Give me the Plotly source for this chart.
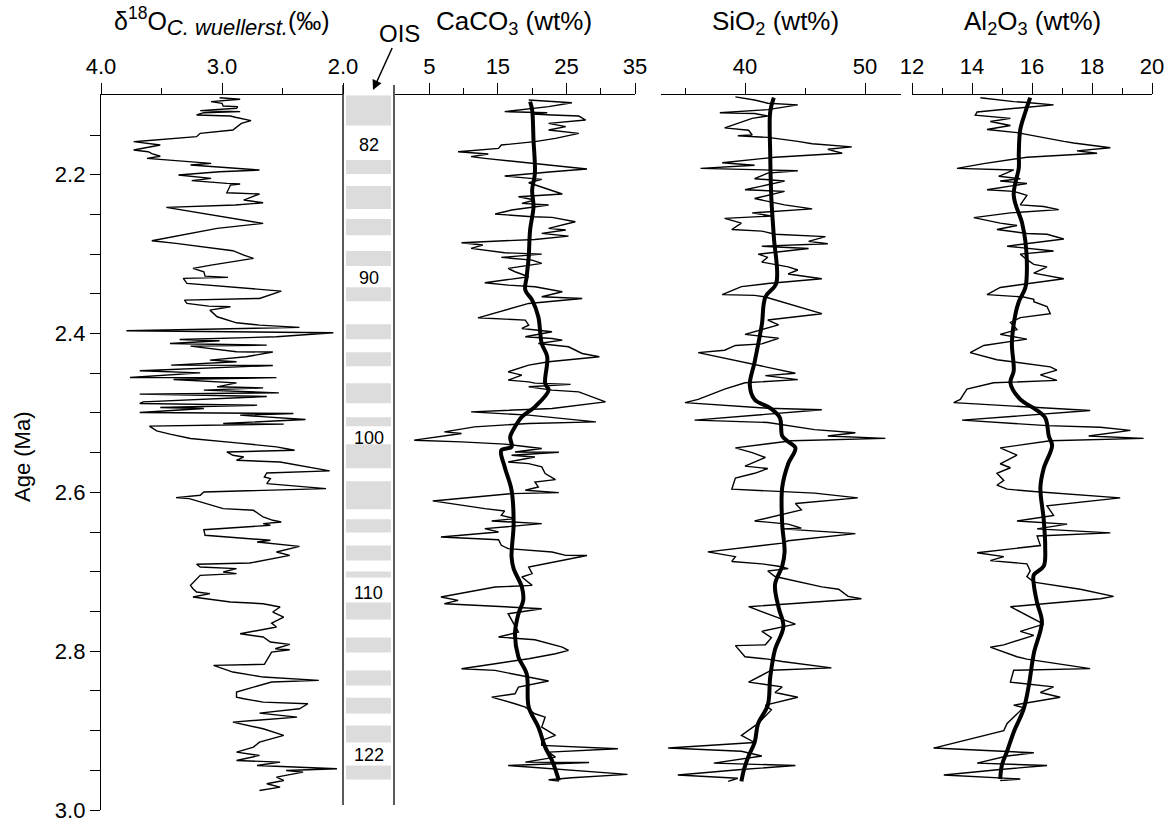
import plotly.graph_objects as go

# ---------------- data ----------------
# benthic oxygen isotopes (C. wuellerstorfi), permil vs age (Ma)
d18o_age = [2.1030, 2.1050, 2.1080, 2.1101, 2.1135, 2.1143, 2.1164, 2.1193, 2.1206, 2.1219, 2.1248, 2.1261,
            2.1277, 2.1319, 2.1353, 2.1416, 2.1437, 2.1479, 2.1521, 2.1584, 2.1626, 2.1689, 2.1710, 2.1735,
            2.1767, 2.1794, 2.1857, 2.1878, 2.1941, 2.1962, 2.2004, 2.2046, 2.2075, 2.2109, 2.2117, 2.2130,
            2.2227, 2.2243, 2.2319, 2.2353, 2.2382, 2.2411, 2.2495, 2.2521, 2.2613, 2.2676, 2.2831, 2.2865,
            2.2941, 2.2957, 2.3012, 2.3054, 2.3138, 2.3180, 2.3222, 2.3277, 2.3293, 2.3306, 2.3369, 2.3445,
            2.3466, 2.3558, 2.3579, 2.3621, 2.3655, 2.3663, 2.3705, 2.3789, 2.3865, 2.3894, 2.3923, 2.3965,
            2.3991, 2.4041, 2.4075, 2.4091, 2.4125, 2.4146, 2.4159, 2.4230, 2.4233, 2.4293, 2.4335, 2.4356,
            2.4398, 2.4402, 2.4469, 2.4495, 2.4553, 2.4555, 2.4579, 2.4621, 2.4671, 2.4684, 2.4713, 2.4747,
            2.4763, 2.4793, 2.4860, 2.4881, 2.4902, 2.4931, 2.4944, 2.4994, 2.5007, 2.5028, 2.5082, 2.5133,
            2.5141, 2.5166, 2.5225, 2.5267, 2.5322, 2.5377, 2.5427, 2.5469, 2.5491, 2.5533, 2.5554, 2.5596,
            2.5617, 2.5730, 2.5756, 2.5806, 2.5827, 2.5890, 2.5953, 2.5995, 2.6037, 2.6066, 2.6079, 2.6205,
            2.6226, 2.6310, 2.6352, 2.6373, 2.6394, 2.6415, 2.6470, 2.6541, 2.6583, 2.6604, 2.6625, 2.6680,
            2.6751, 2.6793, 2.6890, 2.6906, 2.6940, 2.6961, 2.7003, 2.7024, 2.7045, 2.7171, 2.7213, 2.7255,
            2.7276, 2.7318, 2.7381, 2.7402, 2.7444, 2.7507, 2.7570, 2.7646, 2.7696, 2.7780, 2.7822, 2.7885,
            2.7914, 2.7969, 2.7982, 2.8011, 2.8166, 2.8179, 2.8263, 2.8326, 2.8368, 2.8389, 2.8452, 2.8515,
            2.8578, 2.8599, 2.8641, 2.8662, 2.8725, 2.8780, 2.8830, 2.8893, 2.8977, 2.9061, 2.9145, 2.9208,
            2.9271, 2.9313, 2.9376, 2.9397, 2.9439, 2.9481, 2.9502, 2.9523, 2.9586, 2.9628, 2.9670, 2.9712,
            2.9754]
d18o = [3.02, 2.85, 3.09, 3.00, 2.99, 2.87, 2.88, 3.18, 2.85, 3.15, 3.21, 2.93,
        2.89, 2.76, 2.84, 2.89, 2.91, 3.18, 3.21, 3.73, 3.51, 3.73, 3.61, 3.58,
        3.51, 3.62, 3.09, 3.26, 2.69, 3.02, 3.36, 3.09, 3.25, 2.96, 2.85, 2.93,
        2.96, 2.69, 2.82, 2.66, 2.89, 3.46, 3.13, 3.03, 2.66, 3.04, 3.58, 3.38,
        2.96, 2.91, 2.82, 2.74, 3.09, 3.24, 3.15, 3.14, 2.95, 3.32, 3.29, 2.66,
        2.51, 2.69, 3.31, 3.29, 3.11, 2.93, 3.10, 3.04, 2.88, 2.69, 2.36, 3.79,
        2.08, 2.55, 3.35, 3.02, 3.43, 2.63, 3.26, 2.88, 2.58, 2.80, 3.10, 2.88,
        3.42, 2.58, 3.68, 3.18, 3.76, 2.55, 3.40, 2.88, 3.04, 2.66, 3.15, 2.53,
        3.68, 2.63, 3.65, 3.68, 2.71, 3.51, 3.15, 3.68, 2.41, 2.85, 2.31, 2.99,
        2.49, 3.60, 3.54, 3.43, 3.26, 2.88, 2.55, 2.40, 2.96, 2.91, 2.82, 2.88,
        2.52, 2.11, 2.63, 2.65, 2.60, 2.63, 2.14, 3.15, 3.18, 3.38, 3.27, 2.99,
        2.74, 2.66, 2.58, 2.51, 2.66, 2.60, 3.15, 3.14, 2.74, 2.60, 2.71, 2.36,
        2.55, 2.44, 2.77, 3.21, 3.18, 2.88, 2.99, 2.88, 3.18, 3.26, 3.24, 3.21,
        3.10, 3.24, 2.93, 2.66, 2.52, 2.58, 2.49, 2.59, 2.55, 2.85, 2.66, 2.60,
        2.44, 2.56, 2.44, 2.59, 2.65, 3.07, 2.91, 2.66, 2.20, 2.59, 2.74, 2.88,
        2.88, 2.82, 2.66, 2.29, 2.36, 2.69, 2.38, 2.91, 2.66, 2.49, 2.69, 2.74,
        2.88, 2.69, 2.88, 2.52, 2.71, 2.05, 2.47, 2.33, 2.55, 2.49, 2.63, 2.52,
        2.69]

# CaCO3 (wt%)
caco3_age = [2.1060, 2.1093, 2.1143, 2.1206, 2.1219, 2.1235, 2.1248, 2.1261, 2.1311, 2.1353, 2.1395, 2.1437,
             2.1479, 2.1542, 2.1584, 2.1626, 2.1668, 2.1710, 2.1739, 2.1773, 2.1794, 2.1823, 2.1849, 2.1928,
             2.1962, 2.2017, 2.2059, 2.2101, 2.2243, 2.2277, 2.2319, 2.2361, 2.2382, 2.2411, 2.2445, 2.2495,
             2.2529, 2.2537, 2.2592, 2.2676, 2.2697, 2.2739, 2.2773, 2.2815, 2.2857, 2.2886, 2.2928, 2.2983,
             2.3000, 2.3041, 2.3075, 2.3117, 2.3180, 2.3222, 2.3285, 2.3361, 2.3390, 2.3411, 2.3474, 2.3537,
             2.3558, 2.3621, 2.3802, 2.3831, 2.3894, 2.3936, 2.3978, 2.4041, 2.4062, 2.4083, 2.4125, 2.4167,
             2.4251, 2.4293, 2.4356, 2.4398, 2.4482, 2.4524, 2.4587, 2.4608, 2.4625, 2.4640, 2.4671, 2.4713,
             2.4734, 2.4860, 2.4944, 2.4986, 2.5007, 2.5028, 2.5112, 2.5133, 2.5175, 2.5238, 2.5259, 2.5301,
             2.5343, 2.5364, 2.5393, 2.5448, 2.5491, 2.5495, 2.5533, 2.5554, 2.5617, 2.5638, 2.5680, 2.5764,
             2.5840, 2.5869, 2.5932, 2.5974, 2.6003, 2.6016, 2.6108, 2.6205, 2.6234, 2.6289, 2.6331, 2.6360,
             2.6394, 2.6457, 2.6499, 2.6562, 2.6596, 2.6667, 2.6709, 2.6751, 2.6793, 2.6795, 2.6835, 2.6940,
             2.7024, 2.7066, 2.7171, 2.7192, 2.7318, 2.7360, 2.7402, 2.7444, 2.7465, 2.7528, 2.7759, 2.7822,
             2.7856, 2.7948, 2.7990, 2.8032, 2.8095, 2.8158, 2.8221, 2.8242, 2.8284, 2.8376, 2.8452, 2.8536,
             2.8578, 2.8620, 2.8662, 2.8704, 2.8788, 2.8830, 2.8956, 2.9061, 2.9124, 2.9187, 2.9229, 2.9271,
             2.9334, 2.9397, 2.9401, 2.9439, 2.9481, 2.9502, 2.9552, 2.9594, 2.9620, 2.9636]
caco3 = [19.5, 25.8, 22.4, 16.0, 22.2, 20.0, 22.9, 26.8, 27.8, 22.4, 24.9, 22.4,
         26.8, 23.4, 20.4, 15.5, 15.1, 9.2, 13.6, 11.1, 13.1, 16.5, 18.5, 28.0,
         22.9, 16.0, 21.4, 19.5, 24.4, 18.0, 20.4, 18.5, 22.4, 20.0, 17.0, 14.6,
         20.0, 22.9, 26.3, 22.4, 24.9, 21.4, 25.3, 20.4, 9.7, 12.8, 11.1, 16.0,
         21.4, 15.5, 20.0, 21.4, 16.5, 17.5, 19.5, 13.1, 16.5, 20.4, 24.4, 21.4,
         27.3, 19.5, 12.1, 19.0, 19.5, 18.5, 22.9, 19.0, 22.9, 24.4, 20.9, 25.3,
         27.3, 29.8, 22.4, 19.5, 16.5, 18.5, 16.5, 19.5, 20.4, 25.6, 19.5, 22.9,
         26.8, 30.7, 22.9, 11.1, 14.6, 19.5, 29.3, 19.5, 11.6, 7.2, 9.7, 6.2,
         2.8, 9.7, 16.0, 21.4, 17.5, 23.9, 17.0, 20.4, 16.5, 19.5, 21.4, 21.9,
         23.4, 20.4, 20.9, 19.0, 23.9, 17.0, 5.5, 13.1, 16.0, 15.5, 17.5, 14.1,
         21.4, 13.1, 15.1, 6.7, 15.1, 15.5, 16.5, 22.9, 24.9, 28.0, 25.8, 19.5,
         20.0, 18.5, 20.0, 14.6, 6.7, 9.2, 7.2, 17.0, 21.4, 16.5, 18.0, 15.1,
         20.4, 24.4, 25.3, 23.4, 19.5, 14.6, 9.7, 14.6, 17.0, 22.4, 18.0, 17.5,
         14.1, 16.0, 17.5, 19.0, 20.4, 21.9, 21.4, 23.4, 21.4, 21.4, 32.5, 22.4,
         23.4, 19.0, 28.3, 16.5, 22.9, 25.3, 33.9, 25.8, 22.4, 23.9]
caco3_smooth_age = [2.1080, 2.1185, 2.1563, 2.1983, 2.2193, 2.2403, 2.2697, 2.3033, 2.3285, 2.3453, 2.3579,
                    2.3789, 2.4125, 2.4293, 2.4629, 2.4713, 2.4923, 2.5049, 2.5175, 2.5301, 2.5427, 2.5470,
                    2.5680, 2.5974, 2.6394, 2.6814, 2.6961, 2.7192, 2.7360, 2.7528, 2.7780, 2.8074, 2.8284,
                    2.8704, 2.8956, 2.9208, 2.9376, 2.9544, 2.9628]
caco3_smooth = [19.7, 20.0, 20.2, 20.4, 20.0, 20.2, 19.7, 19.5, 19.2, 19.0, 20.0,
                20.9, 21.4, 22.2, 21.9, 22.4, 20.4, 18.5, 17.5, 16.8, 17.0, 15.5,
                16.0, 17.0, 17.3, 17.0, 17.3, 18.5, 18.7, 18.0, 17.5, 18.0, 19.2,
                19.5, 20.9, 21.9, 22.9, 23.6, 23.9]

# SiO2 (wt%)
sio2_age = [2.102, 2.106, 2.110, 2.112, 2.118, 2.122, 2.123, 2.126, 2.129, 2.141, 2.144, 2.150,
            2.151, 2.153, 2.158, 2.161, 2.165, 2.168, 2.173, 2.178, 2.185, 2.188, 2.192, 2.195,
            2.198, 2.205, 2.208, 2.219, 2.221, 2.230, 2.238, 2.240, 2.243, 2.248, 2.252, 2.255,
            2.261, 2.269, 2.271, 2.275, 2.278, 2.284, 2.287, 2.290, 2.293, 2.300, 2.304, 2.310,
            2.316, 2.320, 2.325, 2.331, 2.337, 2.341, 2.351, 2.352, 2.354, 2.375, 2.383, 2.389,
            2.401, 2.406, 2.413, 2.415, 2.421, 2.424, 2.439, 2.450, 2.453, 2.458, 2.462, 2.470,
            2.483, 2.487, 2.494, 2.496, 2.509, 2.512, 2.521, 2.525, 2.529, 2.532, 2.535, 2.544,
            2.550, 2.556, 2.567, 2.570, 2.576, 2.582, 2.596, 2.601, 2.607, 2.614, 2.622, 2.636,
            2.640, 2.645, 2.646, 2.649, 2.652, 2.661, 2.664, 2.675, 2.681, 2.687, 2.690, 2.693,
            2.696, 2.699, 2.706, 2.719, 2.722, 2.731, 2.734, 2.744, 2.766, 2.775, 2.783, 2.792,
            2.793, 2.807, 2.810, 2.813, 2.821, 2.824, 2.839, 2.845, 2.852, 2.858, 2.868, 2.874,
            2.891, 2.906, 2.915, 2.922, 2.926, 2.932, 2.941, 2.944, 2.949, 2.956, 2.960, 2.964]
sio2 = [39.2, 40.8, 41.9, 44.4, 41.9, 37.9, 40.8, 41.9, 40.6, 38.3, 40.3, 40.6,
        39.4, 41.9, 44.4, 45.6, 48.9, 46.9, 48.1, 42.5, 38.1, 40.8, 36.3, 44.4,
        41.9, 40.8, 43.3, 40.0, 43.3, 40.8, 43.3, 44.4, 45.6, 40.6, 42.2, 38.3,
        39.7, 38.9, 41.4, 42.5, 46.7, 45.3, 46.9, 41.4, 45.3, 41.1, 41.9, 41.4,
        43.6, 44.4, 43.6, 46.4, 41.9, 39.7, 38.1, 40.8, 41.7, 46.4, 41.9, 42.8,
        40.0, 42.8, 41.4, 39.2, 38.3, 36.1, 40.8, 44.2, 41.7, 44.4, 40.0, 38.3,
        36.1, 35.0, 41.9, 46.4, 35.8, 41.9, 45.8, 49.2, 46.9, 51.7, 43.9, 39.2,
        40.6, 41.7, 40.0, 41.9, 40.8, 39.2, 38.9, 45.8, 49.4, 44.2, 44.7, 40.8,
        43.6, 44.7, 43.1, 45.8, 49.2, 43.6, 43.1, 36.9, 39.2, 38.9, 41.4, 42.8,
        43.6, 41.9, 42.5, 46.4, 47.8, 48.6, 49.7, 40.3, 44.2, 41.4, 42.2, 41.7,
        39.2, 40.0, 41.9, 43.1, 47.2, 42.2, 40.3, 43.1, 42.5, 44.4, 41.7, 42.2,
        41.1, 39.7, 40.8, 33.6, 39.7, 41.4, 37.4, 44.2, 39.7, 34.4, 39.4, 38.6]
sio2_smooth_age = [2.103, 2.121, 2.173, 2.231, 2.278, 2.337, 2.354, 2.389, 2.436, 2.465, 2.483, 2.494,
                   2.506, 2.529, 2.535, 2.544, 2.564, 2.594, 2.640, 2.675, 2.693, 2.716, 2.745, 2.769,
                   2.798, 2.833, 2.868, 2.891, 2.915, 2.932, 2.950, 2.964]
sio2_smooth = [42.4, 42.1, 42.1, 42.2, 42.4, 42.6, 41.7, 41.4, 40.8, 40.4, 40.8, 42.1,
               42.9, 43.1, 43.5, 44.2, 43.6, 43.1, 43.1, 43.3, 43.1, 42.5, 42.8, 43.2,
               42.5, 42.1, 41.9, 41.1, 40.8, 40.3, 39.9, 39.7]

# Al2O3 (wt%)
al2o3_age = [2.103, 2.108, 2.109, 2.112, 2.115, 2.121, 2.125, 2.129, 2.133, 2.138, 2.143, 2.147,
             2.158, 2.160, 2.166, 2.170, 2.173, 2.178, 2.186, 2.192, 2.194, 2.202, 2.205, 2.208,
             2.211, 2.219, 2.221, 2.226, 2.238, 2.240, 2.244, 2.248, 2.254, 2.261, 2.264, 2.269,
             2.274, 2.275, 2.281, 2.290, 2.296, 2.300, 2.307, 2.313, 2.316, 2.324, 2.331, 2.337,
             2.342, 2.351, 2.354, 2.357, 2.360, 2.366, 2.375, 2.380, 2.386, 2.395, 2.401, 2.407,
             2.415, 2.424, 2.433, 2.442, 2.446, 2.452, 2.459, 2.462, 2.470, 2.483, 2.487, 2.497,
             2.509, 2.516, 2.518, 2.522, 2.529, 2.532, 2.535, 2.544, 2.553, 2.564, 2.569, 2.576,
             2.585, 2.591, 2.596, 2.599, 2.607, 2.617, 2.629, 2.636, 2.640, 2.646, 2.651, 2.655,
             2.667, 2.676, 2.681, 2.686, 2.690, 2.699, 2.706, 2.713, 2.722, 2.731, 2.734, 2.744,
             2.766, 2.775, 2.780, 2.792, 2.795, 2.807, 2.810, 2.822, 2.824, 2.839, 2.845, 2.852,
             2.858, 2.868, 2.871, 2.891, 2.900, 2.922, 2.928, 2.932, 2.941, 2.944, 2.949, 2.956,
             2.961, 2.963]
al2o3 = [14.28, 15.39, 15.83, 16.72, 15.83, 14.17, 14.11, 15.28, 14.61, 15.28, 14.50, 15.50,
         17.06, 17.39, 18.61, 17.50, 18.17, 15.83, 14.39, 13.50, 15.39, 14.89, 15.61, 14.94,
         15.83, 14.50, 15.39, 15.83, 15.61, 16.39, 16.89, 15.28, 14.06, 14.94, 15.50, 14.83,
         15.83, 16.50, 17.06, 15.17, 16.72, 15.61, 15.83, 16.06, 16.50, 16.06, 17.06, 15.83,
         14.94, 14.50, 15.72, 16.06, 16.06, 16.50, 16.61, 15.61, 15.28, 15.50, 14.94, 15.83,
         14.39, 13.94, 14.83, 16.61, 16.83, 16.28, 16.83, 14.72, 13.83, 13.61, 13.39, 17.94,
         13.67, 16.50, 18.28, 19.28, 17.89, 19.72, 16.61, 14.94, 15.50, 14.94, 15.28, 14.83,
         15.06, 14.83, 15.17, 16.06, 18.94, 16.50, 16.72, 15.50, 17.17, 16.17, 18.61, 16.17,
         16.28, 14.17, 15.06, 14.61, 15.83, 15.94, 15.83, 16.06, 17.61, 18.72, 18.28, 15.28,
         16.39, 15.61, 16.06, 15.06, 14.61, 15.50, 15.83, 17.94, 15.39, 15.28, 16.72, 16.28,
         16.94, 15.39, 15.72, 15.17, 15.06, 12.72, 16.06, 15.17, 14.17, 16.50, 14.94, 13.06,
         15.61, 14.94]
al2o3_smooth_age = [2.103, 2.121, 2.143, 2.173, 2.191, 2.226, 2.261, 2.284, 2.319, 2.342, 2.360, 2.377,
                    2.412, 2.447, 2.462, 2.483, 2.494, 2.506, 2.529, 2.541, 2.570, 2.594, 2.634, 2.669,
                    2.693, 2.704, 2.716, 2.739, 2.763, 2.803, 2.844, 2.873, 2.902, 2.926, 2.943, 2.961]
al2o3_smooth = [15.94, 15.78, 15.61, 15.56, 15.56, 15.39, 15.67, 15.78, 15.83, 15.78, 15.56, 15.44,
                15.33, 15.39, 15.28, 15.61, 16.06, 16.44, 16.56, 16.67, 16.39, 16.28, 16.39, 16.44,
                16.39, 16.06, 16.06, 16.17, 16.33, 16.06, 15.89, 15.72, 15.39, 15.17, 15.00, 14.94]

# oxygen isotope stages: glacial (shaded) intervals, Ma
ois_top = [2.100, 2.1815, 2.2143, 2.2559, 2.2962, 2.3416, 2.3882, 2.4235, 2.4626, 2.5054, 2.5394,
           2.5861, 2.6340, 2.6668, 2.6996, 2.7387, 2.7828, 2.8244, 2.8585, 2.8937, 2.9441]
ois_bottom = [2.1381, 2.1992, 2.2433, 2.2761, 2.3151, 2.3592, 2.4071, 2.4411, 2.4878, 2.5168, 2.5697,
              2.6214, 2.6504, 2.6857, 2.7072, 2.7601, 2.8017, 2.8433, 2.8786, 2.9151, 2.9617]
ois_label = ["82", "90", "100", "110", "122"]
ois_label_age = [2.163, 2.330, 2.531, 2.727, 2.931]

# ---------------- figure ----------------
W, H = 1173, 825
FONT = "Liberation Sans, Arial, Helvetica, sans-serif"


def fx(px):
    return px / W


def fy(py):
    return 1 - py / H


thin = dict(color="black", width=1.4)
thick = dict(color="black", width=4.0)

fig = go.Figure()
fig.add_trace(go.Scatter(x=d18o, y=d18o_age, xaxis="x", yaxis="y", mode="lines", line=thin))
fig.add_trace(go.Scatter(x=caco3, y=caco3_age, xaxis="x3", yaxis="y", mode="lines", line=thin))
fig.add_trace(go.Scatter(x=caco3_smooth, y=caco3_smooth_age, xaxis="x3", yaxis="y", mode="lines",
                         line=thick, line_shape="spline"))
fig.add_trace(go.Scatter(x=sio2, y=sio2_age, xaxis="x4", yaxis="y", mode="lines", line=thin))
fig.add_trace(go.Scatter(x=sio2_smooth, y=sio2_smooth_age, xaxis="x4", yaxis="y", mode="lines",
                         line=thick, line_shape="spline"))
fig.add_trace(go.Scatter(x=al2o3, y=al2o3_age, xaxis="x5", yaxis="y", mode="lines", line=thin))
fig.add_trace(go.Scatter(x=al2o3_smooth, y=al2o3_smooth_age, xaxis="x5", yaxis="y", mode="lines",
                         line=thick, line_shape="spline"))

tickfont = dict(family=FONT, size=22, color="black")


def top_axis(domain, rng, tickvals, ticktext, minor_vals):
    return dict(domain=domain, range=rng, side="top", anchor="y", automargin=False,
                tickmode="array", tickvals=tickvals, ticktext=ticktext,
                ticks="outside", ticklen=11, tickwidth=1.3, tickcolor="black",
                showline=True, linecolor="black", linewidth=1.3,
                showgrid=False, zeroline=False, tickfont=tickfont,
                minor=dict(tickmode="array", tickvals=minor_vals, ticks="outside",
                           ticklen=6, tickwidth=1.3, tickcolor="black", showgrid=False))


# panel frame (pixel positions)
Y_TOP, Y_BOT = 95.3, 810.0
shapes = []
for t, b in zip(ois_top, ois_bottom):
    shapes.append(dict(type="rect", xref="x2", yref="y", x0=0.06, x1=0.94, y0=t, y1=b,
                       fillcolor="#dcdcdc", line=dict(width=0), layer="below"))
# column borders of the isotope-stage strip
for xp in (343, 394):
    shapes.append(dict(type="line", xref="paper", yref="paper", x0=fx(xp), x1=fx(xp),
                       y0=fy(85), y1=fy(805), line=dict(color="black", width=1.3)))


def title(text, xp, yp, size):
    return dict(text=text, x=fx(xp), y=fy(yp), xref="paper", yref="paper", showarrow=False,
                xanchor="center", yanchor="middle", font=dict(family=FONT, size=size, color="black"))


annotations = [
    title('δ<sup>18</sup>O<sub><span style="font-size:22px"><i>C. wuellerst.</i></span></sub>(‰)',
          222, 22, 25),
    title("CaCO<sub>3</sub> (wt%)", 514, 23, 26),
    title("SiO<sub>2</sub> (wt%)", 775, 23, 26),
    title("Al<sub>2</sub>O<sub>3</sub> (wt%)", 1032, 23, 26),
    dict(text="OIS", x=fx(373), y=fy(90), xref="paper", yref="paper", showarrow=True,
         ax=26, ay=-57, arrowhead=2, arrowsize=1.3, arrowwidth=1.5, arrowcolor="black",
         font=dict(family=FONT, size=24, color="black")),
    dict(text="Age (Ma)", x=fx(22), y=fy(457), xref="paper", yref="paper", showarrow=False,
         xanchor="center", yanchor="middle", textangle=-90,
         font=dict(family=FONT, size=22, color="black")),
]
for lab, a in zip(ois_label, ois_label_age):
    annotations.append(dict(text=lab, x=0.5, y=a, xref="x2", yref="y", showarrow=False,
                            xanchor="center", yanchor="middle",
                            font=dict(family=FONT, size=18, color="black")))

fig.update_layout(
    width=W, height=H, autosize=False,
    margin=dict(l=0, r=0, t=0, b=0, pad=0, autoexpand=False),
    paper_bgcolor="white", plot_bgcolor="white", showlegend=False,
    font=dict(family=FONT, color="black"),
    xaxis=top_axis([fx(101), fx(343)], [4.0, 2.0], [4, 3, 2], ["4.0", "3.0", "2.0"], [3.5, 2.5]),
    xaxis2=dict(domain=[fx(343), fx(394)], range=[0, 1], anchor="y", visible=False, automargin=False),
    xaxis3=top_axis([fx(395), fx(635)], [0, 35], [5, 15, 25, 35], ["5", "15", "25", "35"],
                    [10, 20, 30]),
    xaxis4=top_axis([fx(661), fx(901)], [33, 53], [40, 50], ["40", "50"], [35, 45]),
    xaxis5=top_axis([fx(912), fx(1152)], [12, 20], [12, 14, 16, 18, 20],
                    ["12", "14", "16", "18", "20"], [13, 15, 17, 19]),
    yaxis=dict(domain=[fy(Y_BOT), fy(Y_TOP)], range=[3.0, 2.1], anchor="x", side="left",
               automargin=False,
               tickmode="array", tickvals=[2.2, 2.4, 2.6, 2.8, 3.0],
               ticktext=["2.2", "2.4", "2.6", "2.8", "3.0"],
               ticks="outside", ticklen=10, tickwidth=1.3, tickcolor="black",
               showline=True, linecolor="black", linewidth=1.3,
               showgrid=False, zeroline=False, tickfont=tickfont,
               minor=dict(tickmode="array",
                          tickvals=[2.15, 2.25, 2.3, 2.35, 2.45, 2.5, 2.55, 2.65, 2.7, 2.75,
                                    2.85, 2.9, 2.95],
                          ticks="outside", ticklen=10, tickwidth=1.3, tickcolor="black",
                          showgrid=False)),
    shapes=shapes,
    annotations=annotations,
)

fig.write_html("out.html")
